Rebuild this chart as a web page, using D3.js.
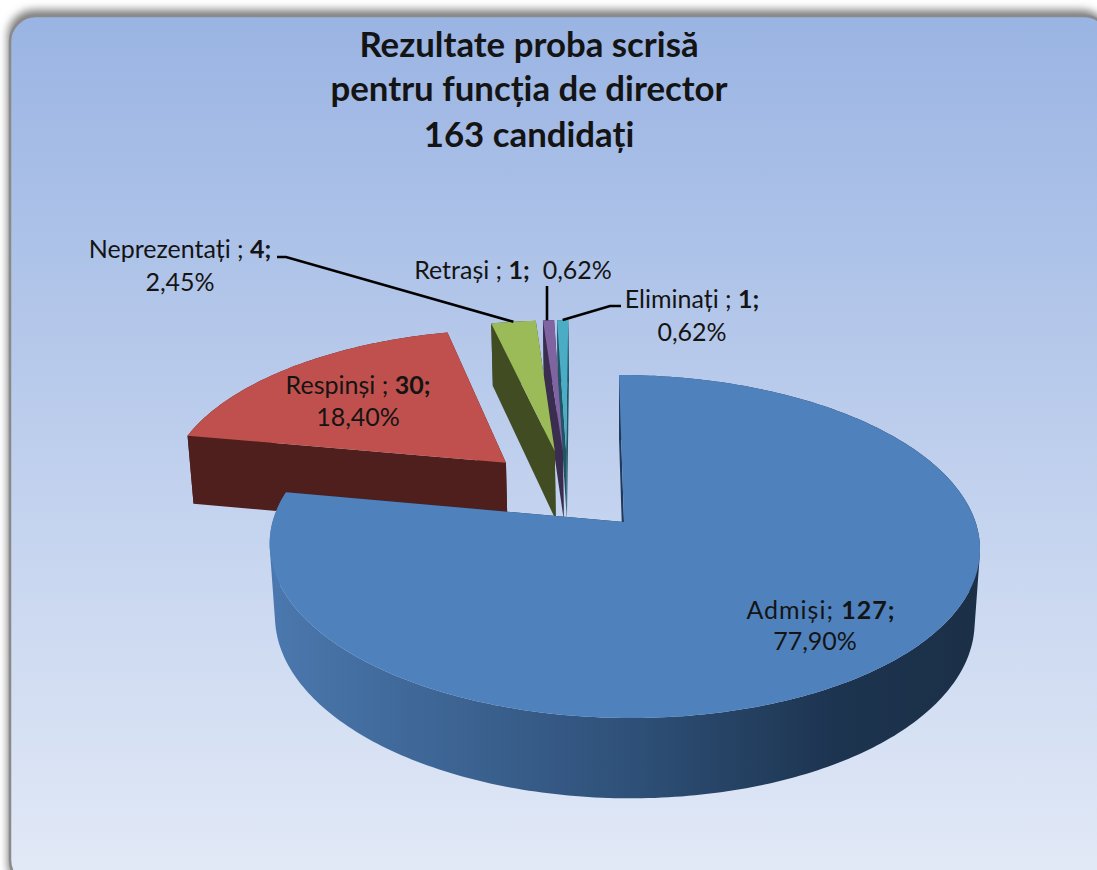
<!DOCTYPE html>
<html><head><meta charset="utf-8">
<script src="https://cdnjs.cloudflare.com/ajax/libs/d3/7.8.5/d3.min.js"></script>
<style>html,body{margin:0;padding:0;background:#fff;overflow:hidden}svg{display:block}text{font-family:Lato,"Open Sans",sans-serif;fill:#141414}</style>
</head><body><svg id="c" width="1097" height="870"></svg>
<script>
const categories = ["Admiși", "Respinși", "Neprezentați", "Retrași", "Eliminați"];
const values = [127, 30, 4, 1, 1];
const percentLabels = ["77,90%", "18,40%", "2,45%", "0,62%", "0,62%"];
const titleLines = ["Rezultate proba scrisă", "pentru funcția de director", "163 candidați"];
const topColors = ["#4f81bd", "#c0504d", "#9bbb59", "#8064a2", "#4bacc6"];
const wallColors = ["url(#wallBlue)", "#4f1f1d", "#414c22", "#3a2d50", "#1f5666"];

const W = 1097, H = 870;
const svg = d3.select("#c");
const defs = svg.append("defs");

const bg = defs.append("linearGradient").attr("id", "bg").attr("x1", 0).attr("y1", 0).attr("x2", 0).attr("y2", 1);
bg.append("stop").attr("offset", 0).attr("stop-color", "#9ab4e3");
bg.append("stop").attr("offset", 1).attr("stop-color", "#e3eaf7");

const wb = defs.append("linearGradient").attr("id", "wallBlue").attr("gradientUnits", "userSpaceOnUse")
  .attr("x1", 277).attr("y1", 0).attr("x2", 975).attr("y2", 0);
wb.append("stop").attr("offset", 0).attr("stop-color", "#4a77ad");
wb.append("stop").attr("offset", 0.5).attr("stop-color", "#2f5179");
wb.append("stop").attr("offset", 0.8).attr("stop-color", "#1d3450");
wb.append("stop").attr("offset", 1).attr("stop-color", "#1b3047");

defs.append("filter").attr("id", "blur").attr("x", "-5%").attr("y", "-5%").attr("width", "110%").attr("height", "110%")
  .append("feGaussianBlur").attr("stdDeviation", 4);

// card
svg.append("rect").attr("x", 8).attr("y", 10).attr("width", 1100).attr("height", 880).attr("rx", 26)
  .attr("fill", "#7a7a7a").attr("filter", "url(#blur)");
svg.append("rect").attr("x", 10).attr("y", 16).attr("width", 1100).attr("height", 870).attr("rx", 26)
  .attr("fill", "url(#bg)").attr("stroke", "#8a8a8a").attr("stroke-width", 2.5);

// perspective view of the exploded pie
const view = {cx: 624, cy: 522, b: 351.5, a: 168, k: 1 / 7, shear: -5.7, depth: 73, mz: 0.015, explode: 0.255};
function project(u, v, z) {
  const w = 1 + view.k * v + view.mz * z;
  return [view.cx + (view.b * u + view.shear * v) / w, view.cy + (-view.a * v + view.depth * z) / w];
}
const arcs = d3.pie().sort(null).value(d => d)(values);
const mid = d => (d.startAngle + d.endAngle) / 2;
const refMid = mid(arcs[0]);
const apex = d => [view.explode * (Math.sin(mid(d)) - Math.sin(refMid)), view.explode * (Math.cos(mid(d)) - Math.cos(refMid))];
const rimPoint = (d, t, z) => { const a = apex(d); return project(a[0] + Math.sin(t), a[1] + Math.cos(t), z); };
const apexPoint = (d, z) => { const a = apex(d); return project(a[0], a[1], z); };
const rimAngles = d => { const n = Math.max(2, Math.ceil((d.endAngle - d.startAngle) * 60)); return d3.range(n + 1).map(i => d.startAngle + (d.endAngle - d.startAngle) * i / n); };
const line = d3.line().curve(d3.curveLinear);
const closed = pts => line(pts) + "Z";
const oriented = pts => d3.polygonArea(pts) < 0 ? pts.slice().reverse() : pts;

const order = arcs.map((d, i) => i).reverse().slice(0, 4).concat([0]);
const pie = svg.append("g");
order.forEach(i => {
  const d = arcs[i], g = pie.append("g");
  const ts = rimAngles(d);
  // outer wall, swept between the two rims
  const quads = d3.pairs(ts).map(([t0, t1]) => closed(oriented([rimPoint(d, t0, 0), rimPoint(d, t1, 0), rimPoint(d, t1, 1), rimPoint(d, t0, 1)])));
  g.append("path").attr("fill", wallColors[i]).attr("d", quads.join(""));
  // radial walls
  [d.startAngle, d.endAngle].forEach(t => {
    g.append("path").attr("fill", i === 0 ? "#1f3a5c" : wallColors[i])
      .attr("d", closed([apexPoint(d, 0), rimPoint(d, t, 0), rimPoint(d, t, 1), apexPoint(d, 1)]));
  });
  // top face
  g.append("path").attr("fill", topColors[i]).attr("d", closed([apexPoint(d, 0)].concat(ts.map(t => rimPoint(d, t, 0)))));
});

// leader lines
const leaders = [
  {i: 2, elbow: [286, 257], start: [277, 257]},
  {i: 3, elbow: null, start: [547, 286]},
  {i: 4, elbow: [610, 306], start: [621, 306]}
];
leaders.forEach(l => {
  const end = rimPoint(arcs[l.i], mid(arcs[l.i]), 0);
  const pts = l.elbow ? [l.start, l.elbow, end] : [l.start, [l.start[0], end[1]]];
  svg.append("path").attr("d", line(pts)).attr("fill", "none").attr("stroke", "#000").attr("stroke-width", 2.6);
});

// title
const titleBase = [57, 101, 147];
titleLines.forEach((t, i) => svg.append("text").attr("x", 529).attr("y", titleBase[i]).attr("text-anchor", "middle")
  .attr("font-size", 34.8).attr("font-weight", 700).text(t));

// data labels
const labelFont = 25;
function rowLabel(x, y, i, sep, tail, spacing) {
  const t = svg.append("text").attr("x", x).attr("y", y).attr("text-anchor", "middle").attr("font-size", labelFont)
    .attr("letter-spacing", spacing || 0);
  t.append("tspan").text(categories[i] + sep);
  t.append("tspan").attr("font-weight", 700).text(values[i] + ";");
  if (tail) t.append("tspan").attr("xml:space", "preserve").text("  " + percentLabels[i]);
}
function pctLabel(x, y, i) {
  svg.append("text").attr("x", x).attr("y", y).attr("text-anchor", "middle").attr("font-size", labelFont).text(percentLabels[i]);
}
rowLabel(821, 619, 0, "; ", false, 1); pctLabel(815, 650, 0);
rowLabel(358, 394, 1, " ; ", false); pctLabel(358, 426, 1);
rowLabel(180, 258, 2, " ; ", false); pctLabel(180, 291, 2);
rowLabel(513, 279, 3, " ; ", true);
rowLabel(692, 308, 4, " ; ", false); pctLabel(692, 341, 4);
</script></body></html>
